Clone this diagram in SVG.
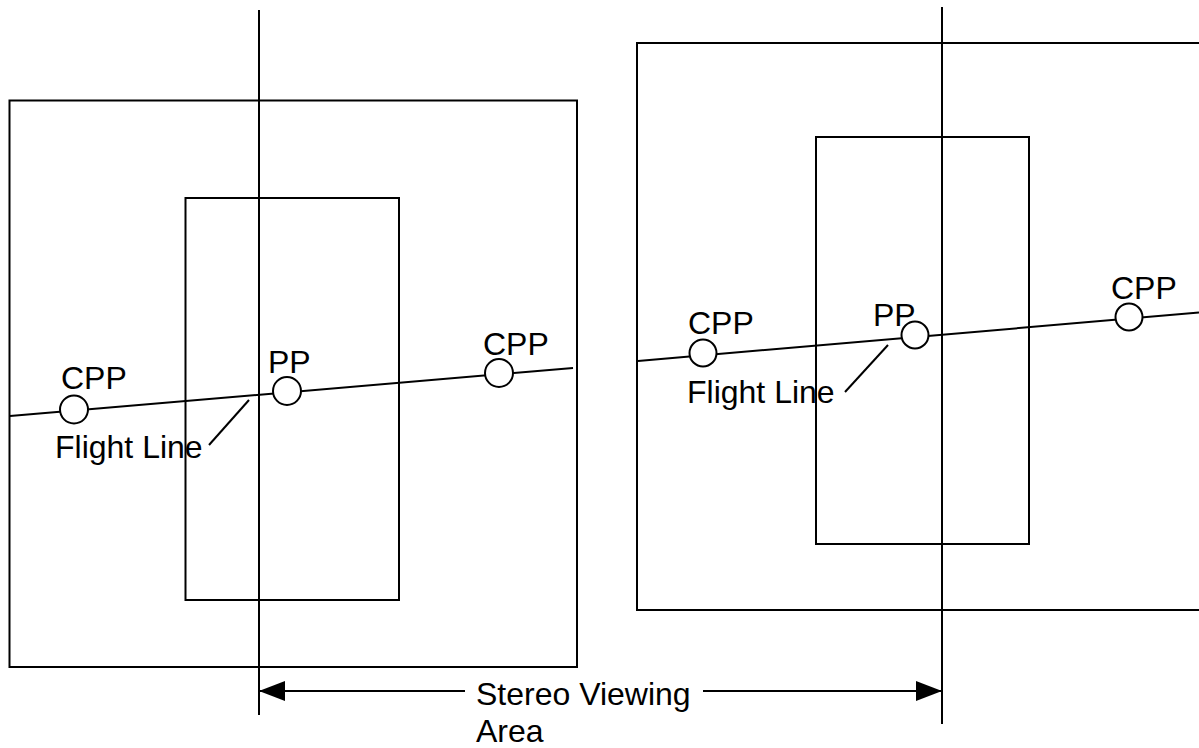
<svg xmlns="http://www.w3.org/2000/svg" width="1199" height="748" viewBox="0 0 1199 748">
<style>
.s{fill:none;stroke:#000;stroke-width:2}
.c{fill:#fff;stroke:#000;stroke-width:2}
.t{font-family:"Liberation Sans",Arial,sans-serif;font-size:32px;fill:#000}
</style>
<defs>
<marker id="ah" viewBox="0 0 26 20" refX="26" refY="10" markerWidth="26" markerHeight="20" markerUnits="userSpaceOnUse" orient="auto-start-reverse">
<path d="M0,0 L26,10 L0,20 Z" fill="#000"/>
</marker>
</defs>
<rect width="1199" height="748" fill="#fff"/>
<g id="left-photo">
<rect class="s" x="9.5" y="100.5" width="567.5" height="566.5"/>
<rect class="s" x="185.5" y="198" width="213.5" height="402"/>
</g>
<g id="right-photo">
<rect class="s" x="637" y="43" width="580" height="567"/>
<rect class="s" x="816" y="137" width="213" height="407"/>
</g>
<g id="connectors">
<line class="s" x1="259" y1="10" x2="259" y2="715"/>
<line class="s" x1="942" y1="7" x2="942" y2="724"/>
<line class="s" x1="10" y1="416" x2="573" y2="368"/>
<line class="s" x1="638" y1="361" x2="1199" y2="312.5"/>
<line class="s" x1="249" y1="400" x2="209" y2="445"/>
<line class="s" x1="888" y1="345" x2="845" y2="392"/>
<line class="s" x1="465" y1="691" x2="259" y2="691" marker-end="url(#ah)"/>
<line class="s" x1="703" y1="691" x2="942" y2="691" marker-end="url(#ah)"/>
</g>
<g id="left-cpp1"><circle class="c" cx="74" cy="409.5" r="14"/><text class="t" x="61" y="389">CPP</text></g>
<g id="left-pp"><circle class="c" cx="287" cy="391" r="14"/><text class="t" x="268" y="373">PP</text></g>
<g id="left-cpp2"><circle class="c" cx="499" cy="373" r="14"/><text class="t" x="483" y="355">CPP</text></g>
<g id="left-flight-label"><text class="t" x="55" y="458">Flight Line</text></g>
<g id="right-cpp1"><circle class="c" cx="703" cy="353" r="13.5"/><text class="t" x="688" y="334">CPP</text></g>
<g id="right-pp"><circle class="c" cx="915" cy="335" r="13.5"/><text class="t" x="873" y="326">PP</text></g>
<g id="right-cpp2"><circle class="c" cx="1129" cy="317" r="13.5"/><text class="t" x="1111" y="299">CPP</text></g>
<g id="right-flight-label"><text class="t" x="687" y="403">Flight Line</text></g>
<g id="stereo-label"><text class="t" x="476" y="705">Stereo Viewing</text><text class="t" x="476" y="742">Area</text></g>
</svg>
